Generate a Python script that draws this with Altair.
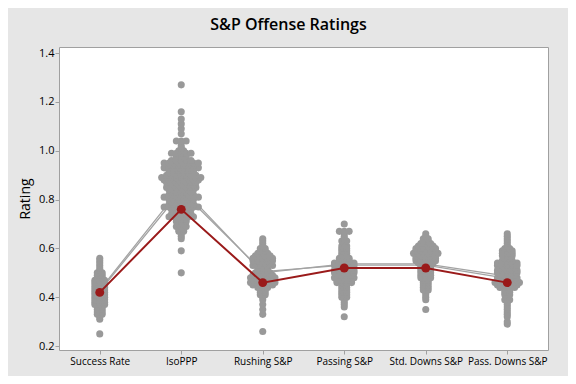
import altair as alt
import pandas as pd

categories = ["Success Rate", "IsoPPP", "Rushing S&P", "Passing S&P",
              "Std. Downs S&P", "Pass. Downs S&P"]

# rating levels and number of teams at each level, per category
sr_vals = [0.25, 0.31, 0.32, 0.33, 0.34, 0.35, 0.36, 0.37, 0.38, 0.39, 0.40, 0.41, 0.42, 0.43,
           0.44, 0.45, 0.46, 0.47, 0.48, 0.49, 0.50, 0.51, 0.52, 0.53, 0.54, 0.55, 0.56]
sr_cnts = [1, 1, 1, 2, 2, 2, 2, 3, 3, 3, 3, 3, 3, 3,
           3, 3, 3, 3, 2, 2, 2, 1, 1, 1, 1, 1, 1]

iso_vals = [0.50, 0.59, 0.64, 0.65, 0.66, 0.67, 0.68, 0.69, 0.70, 0.71, 0.72, 0.73, 0.74, 0.75,
            0.76, 0.77, 0.78, 0.79, 0.80, 0.81, 0.82, 0.83, 0.84, 0.85, 0.86, 0.87, 0.88, 0.89,
            0.90, 0.91, 0.92, 0.93, 0.94, 0.95, 0.96, 0.97, 0.98, 0.99, 1.00, 1.01, 1.02, 1.04,
            1.07, 1.09, 1.11, 1.13, 1.16, 1.27]
iso_cnts = [1, 1, 1, 1, 1, 2, 2, 3, 2, 3, 3, 6, 5, 4,
            5, 8, 6, 5, 6, 8, 6, 5, 6, 7, 6, 7, 8, 9,
            7, 6, 6, 8, 6, 8, 5, 3, 3, 5, 2, 1, 1, 3,
            1, 1, 1, 1, 1, 1]

rush_vals = [0.26, 0.33, 0.35, 0.37, 0.39, 0.40, 0.41, 0.42, 0.43, 0.44, 0.45, 0.46, 0.47, 0.48,
             0.49, 0.50, 0.51, 0.52, 0.53, 0.54, 0.55, 0.56, 0.57, 0.58, 0.59, 0.60, 0.61, 0.62,
             0.63, 0.64]
rush_cnts = [1, 1, 1, 1, 1, 1, 2, 2, 2, 3, 5, 6, 5, 6,
             5, 4, 3, 3, 5, 4, 5, 5, 4, 3, 2, 2, 1, 1,
             1, 1]

pass_vals = [0.32, 0.36, 0.37, 0.38, 0.39, 0.40, 0.41, 0.42, 0.43, 0.44, 0.45, 0.46, 0.47, 0.48,
             0.49, 0.50, 0.51, 0.52, 0.53, 0.54, 0.55, 0.56, 0.57, 0.58, 0.59, 0.60, 0.61, 0.62,
             0.63, 0.64, 0.65, 0.66, 0.67, 0.70]
pass_cnts = [1, 1, 1, 1, 1, 2, 2, 2, 2, 2, 2, 4, 4, 5,
             4, 5, 5, 4, 5, 5, 3, 3, 2, 2, 2, 2, 2, 1,
             2, 1, 1, 1, 3, 1]

std_vals = [0.35, 0.39, 0.40, 0.41, 0.42, 0.43, 0.44, 0.45, 0.46, 0.47, 0.48, 0.49, 0.50, 0.51,
            0.52, 0.53, 0.54, 0.55, 0.56, 0.57, 0.58, 0.59, 0.60, 0.61, 0.62, 0.63, 0.64, 0.65,
            0.66]
std_cnts = [1, 1, 1, 1, 1, 2, 2, 2, 2, 2, 3, 3, 3, 3,
            3, 3, 4, 5, 5, 5, 6, 5, 5, 4, 3, 2, 2, 1,
            1]

pd_vals = [0.29, 0.30, 0.32, 0.33, 0.34, 0.35, 0.36, 0.37, 0.38, 0.39, 0.40, 0.41, 0.42, 0.43,
           0.44, 0.45, 0.46, 0.47, 0.48, 0.49, 0.50, 0.51, 0.52, 0.53, 0.54, 0.55, 0.56, 0.57,
           0.58, 0.59, 0.60, 0.61, 0.62, 0.63, 0.64, 0.65, 0.66]
pd_cnts = [1, 1, 1, 1, 1, 1, 1, 1, 1, 2, 1, 2, 2, 2,
           4, 5, 6, 5, 5, 4, 5, 5, 4, 5, 5, 3, 2, 3,
           3, 3, 2, 1, 1, 1, 1, 1, 1]

# connect lines
red_team = [0.42, 0.76, 0.46, 0.52, 0.52, 0.46]
gray_a = [0.43, 0.85, 0.50, 0.537, 0.537, 0.487]
gray_b = [0.425, 0.835, 0.505, 0.532, 0.532, 0.477]

groups = [(sr_vals, sr_cnts), (iso_vals, iso_cnts), (rush_vals, rush_cnts),
          (pass_vals, pass_cnts), (std_vals, std_cnts), (pd_vals, pd_cnts)]

rows = []
for i, (vals, cnts) in enumerate(groups):
    for v, n in zip(vals, cnts):
        for k in range(n):
            rows.append({"cat": categories[i], "idx": i, "rating": v, "slot": k - (n - 1) / 2})
dots = pd.DataFrame(rows)

lines = pd.DataFrame(
    [{"idx": i, "rating": v, "series": "red"} for i, v in enumerate(red_team)]
    + [{"idx": i, "rating": v, "series": "ga"} for i, v in enumerate(gray_a)]
    + [{"idx": i, "rating": v, "series": "gb"} for i, v in enumerate(gray_b)]
)

label_expr = "[" + ",".join("'" + c + "'" for c in categories) + "][datum.value]"

xscale = alt.Scale(domain=[-0.5, 5.5], nice=False, zero=False)
yscale = alt.Scale(domain=[0.184, 1.425], nice=False, zero=False)

xaxis = alt.Axis(values=[0, 1, 2, 3, 4, 5], labelExpr=label_expr, title=None, grid=False,
                 labelFontSize=10, labelFont="Open Sans", labelColor="#000000",
                 tickSize=4, tickColor="#a0a0a0", domain=False, labelPadding=2)
yaxis = alt.Axis(values=[0.2, 0.4, 0.6, 0.8, 1.0, 1.2, 1.4], format=".1f", title="Rating",
                 grid=False, labelFontSize=11, labelFont="Open Sans", labelColor="#000000",
                 tickSize=4, tickColor="#a0a0a0", domain=False, labelPadding=1,
                 titleFont="Open Sans", titleFontSize=14, titleFontWeight="normal",
                 titleColor="#000000", titleX=-34, titleY=151.5, titleAngle=-90,
                 titleAlign="center", titleBaseline="middle")

base_x = alt.X("xpos:Q", scale=xscale, axis=xaxis)
base_y = alt.Y("rating:Q", scale=yscale, axis=yaxis)

gray_lines = alt.Chart(lines).transform_filter("datum.series != 'red'").transform_calculate(
    xpos="datum.idx").mark_line(color="#a3a3a3", strokeWidth=1.3).encode(
    x=base_x, y=base_y, detail="series:N")

dot_layer = alt.Chart(dots).transform_calculate(
    xpos="datum.idx + datum.slot * 0.06").mark_circle(
    color="#999999", opacity=1, size=50).encode(x=base_x, y=base_y)

red_line = alt.Chart(lines).transform_filter("datum.series == 'red'").transform_calculate(
    xpos="datum.idx").mark_line(color="#9a1a1a", strokeWidth=2).encode(x=base_x, y=base_y)

red_pts = alt.Chart(lines).transform_filter("datum.series == 'red'").transform_calculate(
    xpos="datum.idx").mark_circle(color="#9a1a1a", opacity=1, size=80).encode(x=base_x, y=base_y)

chart = alt.layer(gray_lines, dot_layer, red_line, red_pts).properties(
    width=489, height=303,
    autosize="none",
    padding={"left": 51, "top": 39, "right": 20, "bottom": 26},
    title=alt.TitleParams("S&P Offense Ratings", font="Open Sans", fontSize=16,
                          fontWeight=600, color="#000000", anchor="middle",
                          frame="group", dx=-15, offset=14),
).configure(background="#e6e6e6").configure_view(
    fill="white", stroke="#a0a0a0", strokeWidth=1)

chart.save("out.html", embed_options={"renderer": "svg", "actions": False})
